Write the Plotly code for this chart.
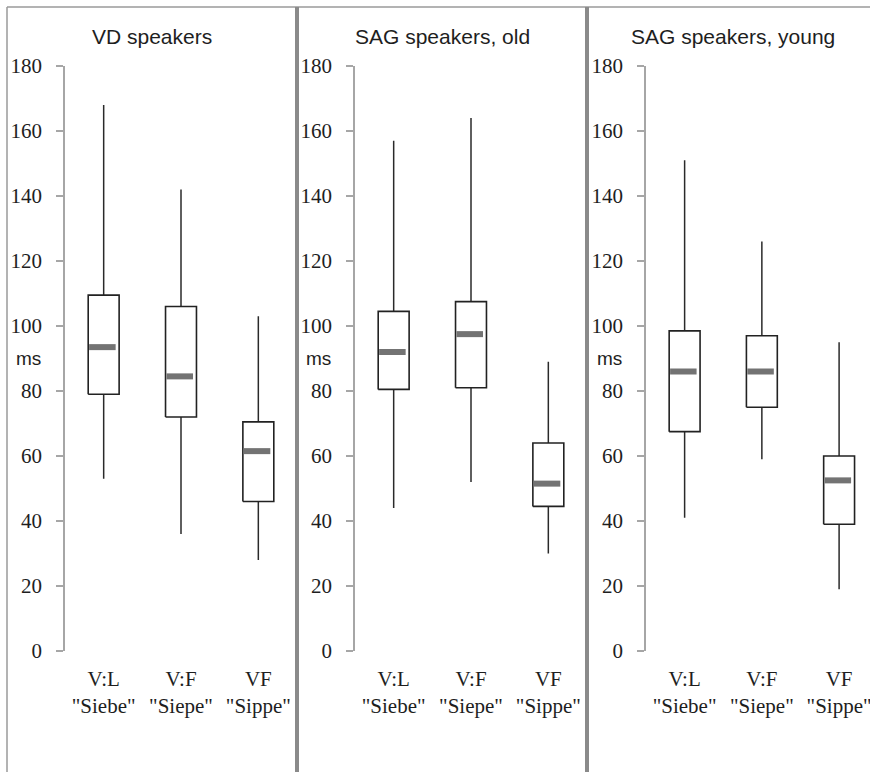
import plotly.graph_objects as go

# ---- data (ms) ----
panel_titles = ["VD speakers", "SAG speakers, old", "SAG speakers, young"]
categories = ["V:L<br>\"Siebe\"", "V:F<br>\"Siepe\"", "VF<br>\"Sippe\""]
y_ticks = [0, 20, 40, 60, 80, 100, 120, 140, 160, 180]

vd_min = [53, 36, 28]
vd_q1 = [79, 72, 46]
vd_med = [93.5, 84.5, 61.5]
vd_q3 = [109.5, 106, 70.5]
vd_max = [168, 142, 103]

old_min = [44, 52, 30]
old_q1 = [80.5, 81, 44.5]
old_med = [92, 97.5, 51.5]
old_q3 = [104.5, 107.5, 64]
old_max = [157, 164, 89]

young_min = [41, 59, 19]
young_q1 = [67.5, 75, 39]
young_med = [86, 86, 52.5]
young_q3 = [98.5, 97, 60]
young_max = [151, 126, 95]

panels = [
    (vd_min, vd_q1, vd_med, vd_q3, vd_max),
    (old_min, old_q1, old_med, old_q3, old_max),
    (young_min, young_q1, young_med, young_q3, young_max),
]

W, H = 870, 772
def px(x):
    return x / W
def py(y):
    return (H - y) / H

x_domains = [[px(65), px(297)], [px(355), px(587)], [px(646), 1.0]]
x_ranges = [[-0.5, 2.5], [-0.5, 2.5], [-0.5, 2.4]]
y_domain = [py(651), py(66)]
frame_centers = [152, 442, 733]

SERIF = "Liberation Serif, Times New Roman, serif"
SANS = "Liberation Sans, Arial, sans-serif"
BOX_HALF = 0.2

fig = go.Figure()
for p, (mn, q1, md, q3, mx) in enumerate(panels):
    xa = "x" if p == 0 else f"x{p+1}"
    ya = "y" if p == 0 else f"y{p+1}"
    for i in range(len(categories)):
        # whiskers
        fig.add_trace(go.Scatter(
            x=[i, i, None, i, i], y=[q3[i], mx[i], None, mn[i], q1[i]],
            mode="lines", line=dict(color="#2a2a2a", width=1.5),
            xaxis=xa, yaxis=ya, showlegend=False, hoverinfo="skip"))
        # box
        fig.add_trace(go.Scatter(
            x=[i - BOX_HALF, i + BOX_HALF, i + BOX_HALF, i - BOX_HALF, i - BOX_HALF],
            y=[q1[i], q1[i], q3[i], q3[i], q1[i]],
            mode="lines", fill="toself", fillcolor="white",
            line=dict(color="#222222", width=1.6),
            xaxis=xa, yaxis=ya, showlegend=False, hoverinfo="skip"))
        # median bar
        fig.add_trace(go.Scatter(
            x=[i - BOX_HALF + 0.012, i + BOX_HALF - 0.045], y=[md[i], md[i]],
            mode="lines", line=dict(color="#737373", width=6),
            xaxis=xa, yaxis=ya, showlegend=False, hoverinfo="skip"))

    xkey = "xaxis" if p == 0 else f"xaxis{p+1}"
    ykey = "yaxis" if p == 0 else f"yaxis{p+1}"
    fig.update_layout(**{
        xkey: dict(domain=x_domains[p], range=x_ranges[p], anchor=ya,
                   tickmode="array", tickvals=[0, 1, 2], ticktext=categories,
                   showline=False, ticks="", showgrid=False, zeroline=False,
                   automargin=False, ticklabeloverflow="allow",
                   tickfont=dict(family=SERIF, size=21, color="#1e1e1e"),
                   ticklabelstandoff=13),
        ykey: dict(domain=y_domain, range=[0, 180], anchor=xa,
                   tickmode="array", tickvals=y_ticks,
                   showline=True, linecolor="#a6a6a6", linewidth=1.5,
                   ticks="outside", ticklen=7, tickcolor="#a6a6a6", tickwidth=1.5,
                   showgrid=False, zeroline=False, automargin=False,
                   tickfont=dict(family=SERIF, size=21, color="#1e1e1e"),
                   ticklabelstandoff=10),
    })
    # panel title
    fig.add_annotation(x=px(frame_centers[p]), y=py(37), xref="paper", yref="paper",
                       text=panel_titles[p], showarrow=False,
                       xanchor="center", yanchor="middle",
                       font=dict(family=SANS, size=21, color="#1e1e1e"))
    # ms label
    ms_x = [14, 304, 595][p]
    fig.add_annotation(x=px(ms_x), y=py(358), xref="paper", yref="paper",
                       text="ms", showarrow=False, xanchor="left", yanchor="middle",
                       font=dict(family=SANS, size=19, color="#1e1e1e"))

# frame
shapes = [
    dict(type="line", xref="paper", yref="paper", x0=px(7), x1=1.0, y0=py(7), y1=py(7),
         line=dict(color="#9a9a9a", width=1.5)),
    dict(type="line", xref="paper", yref="paper", x0=px(7), x1=px(7), y0=py(7), y1=0,
         line=dict(color="#9a9a9a", width=1.5)),
    dict(type="line", xref="paper", yref="paper", x0=px(297), x1=px(297), y0=py(7), y1=0,
         line=dict(color="#8a8a8a", width=4)),
    dict(type="line", xref="paper", yref="paper", x0=px(587), x1=px(587), y0=py(7), y1=0,
         line=dict(color="#8a8a8a", width=4)),
]

fig.update_layout(width=W, height=H, margin=dict(l=0, r=0, t=0, b=0, autoexpand=False),
                  paper_bgcolor="white", plot_bgcolor="white",
                  shapes=shapes, showlegend=False)

fig.write_html("out.html", config={"displayModeBar": False},
               post_script="document.body.style.margin='0';document.body.style.overflow='hidden';")
